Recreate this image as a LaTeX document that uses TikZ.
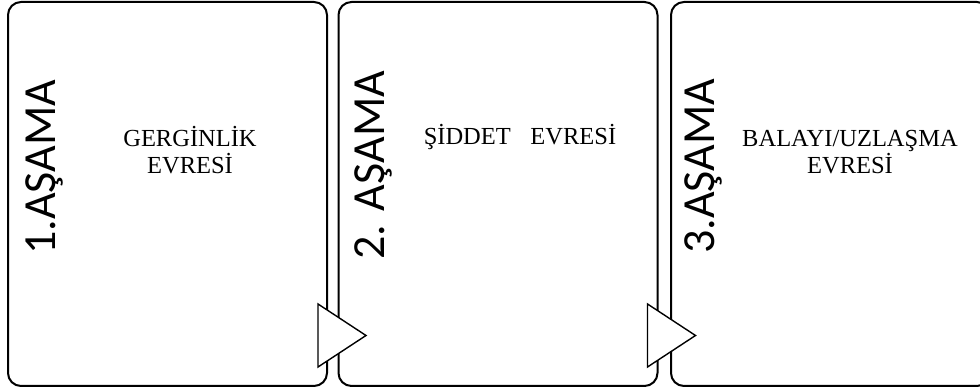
\documentclass[tikz,border=0pt]{standalone}
\usepackage{fontspec}
\setmainfont{Liberation Serif}
\newfontfamily\stagefont{Carlito}
\usetikzlibrary{positioning}

\begin{document}
\begin{tikzpicture}[x=1pt, y=1pt,
  box/.style={draw, line width=2pt, rounded corners=13pt, fill=white,
    minimum width=319pt, minimum height=384pt, inner sep=0pt},
  stage/.style={rotate=90, anchor=base west, inner sep=0pt,
    font=\fontsize{46}{52}\stagefont},
  phase/.style={align=center, anchor=base, inner sep=0pt,
    font=\fontsize{24.5}{27}\selectfont},
  tri/.style={draw, fill=white, line width=1.4pt, line join=miter}
]
  \useasboundingbox (0,0) rectangle (980,390);
  \clip (0,0) rectangle (980,390);

  % Boxes
  \node[box] (s1) at (167.5,196) {};
  \node[box] (s2) at (498,196) {};
  \node[box] (s3) at (830.5,196) {};

  % Stage labels
  \node[stage] (l1) at (55,135) {1.AŞAMA};
  \node[stage] (l2) at (384,130) {2. AŞAMA};
  \node[stage] (l3) at (714,136) {3.AŞAMA};

  % Phase texts
  \node[phase] (p1) at (190,216) {GERGİNLİK\\EVRESİ};
  \node[phase] (p2) at (520,245) {ŞİDDET\hspace{0.8em}EVRESİ};
  \node[phase] (p3) at (850,216) {BALAYI/UZLAŞMA\\EVRESİ};

  % Arrows
  \draw[tri] ([xshift=-10pt, yshift=83pt]s1.south east) -- ++(0,-63)
    -- ++(48,31.5) -- cycle;
  \draw[tri] ([xshift=-11pt, yshift=83pt]s2.south east) -- ++(0,-63)
    -- ++(48,31.5) -- cycle;
\end{tikzpicture}
\end{document}
